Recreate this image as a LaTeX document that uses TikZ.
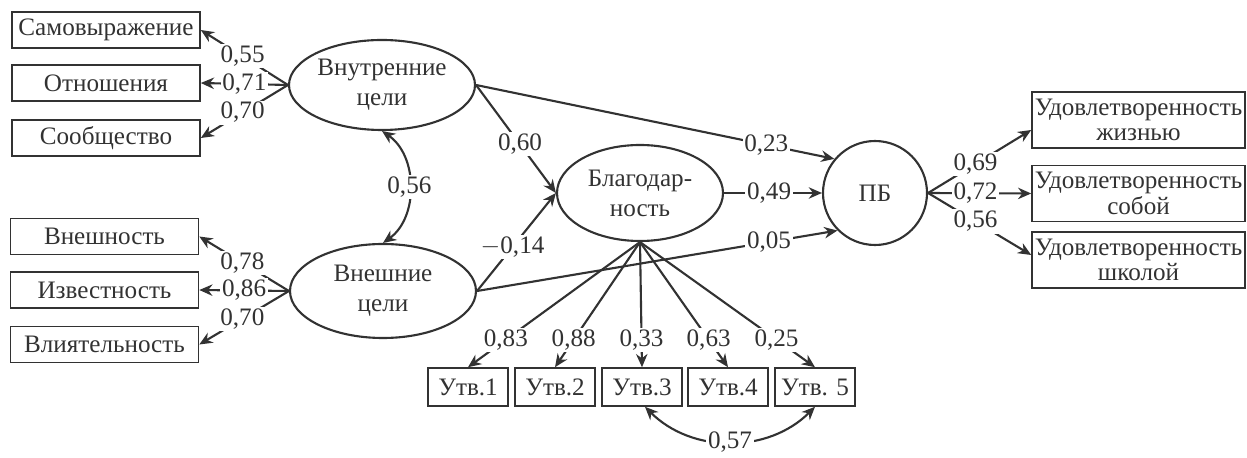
\documentclass[tikz,border=0pt]{standalone}
\usepackage{fontspec}
\setmainfont{Liberation Serif}
\usepackage{tikz}
\usetikzlibrary{arrows.meta, positioning, shapes.geometric}
\definecolor{ink}{RGB}{50,50,50}

\begin{document}
\begin{tikzpicture}[
    every node/.style={text=ink, font=\fontsize{14.3}{17}\selectfont},
    leftbox/.style={draw=ink, line width=0.9pt, minimum width=3.76cm, minimum height=0.72cm, inner sep=0pt},
    rightbox/.style={draw=ink, line width=0.9pt, minimum width=4.26cm, minimum height=1.12cm, inner sep=0pt, align=center, font=\fontsize{14.3}{14.5}\selectfont},
    utvbox/.style={draw=ink, line width=0.9pt, minimum width=1.6cm, minimum height=0.76cm, inner sep=0pt},
    latent/.style={ellipse, draw=ink, line width=1.2pt, inner sep=0pt, align=center},
    arr/.style={-{Stealth[length=7.5pt, width=6.5pt]}, draw=ink, line width=1.2pt},
    twoarr/.style={{Stealth[length=7.5pt, width=6.5pt]}-{Stealth[length=7.5pt, width=6.5pt]}, draw=ink, line width=1.2pt},
    lbl/.style={fill=white, inner sep=1pt}
]
    \useasboundingbox (0,0) rectangle (24.94,-9.16);

    % Латентные переменные
    \node[latent, minimum width=3.72cm, minimum height=1.8cm] (intr) at (7.64,-1.7) {Внутренние\\цели};
    \node[latent, minimum width=3.72cm, minimum height=1.88cm] (extr) at (7.66,-5.82) {Внешние\\цели};
    \node[latent, minimum width=3.32cm, minimum height=1.92cm] (blag) at (12.8,-3.86) {Благодар-\\ность};
    \node[circle, draw=ink, line width=1.2pt, minimum size=2.08cm, inner sep=0pt] (pb) at (17.5,-3.86) {ПБ};

    % Внутренние цели: индикаторы
    \node[leftbox] (samo) at (2.12,-0.6) {Самовыражение};
    \node[leftbox] (otno) at (2.12,-1.66) {Отношения};
    \node[leftbox] (soob) at (2.12,-2.76) {Сообщество};
    \draw[arr] (intr.west) -- node[lbl, pos=0.52] {0,55} (samo.east);
    \draw[arr] (intr.west) -- node[lbl, pos=0.5] {0,71} (otno.east);
    \draw[arr] (intr.west) -- node[lbl, pos=0.52] {0,70} (soob.east);

    % Внешние цели: индикаторы
    \node[leftbox] (vnesh) at (2.09,-4.73) {Внешность};
    \node[leftbox] (izv) at (2.09,-5.8) {Известность};
    \node[leftbox] (vliy) at (2.09,-6.89) {Влиятельность};
    \draw[arr] (extr.west) -- node[lbl, pos=0.52] {0,78} (vnesh.east);
    \draw[arr] (extr.west) -- node[lbl, pos=0.5] {0,86} (izv.east);
    \draw[arr] (extr.west) -- node[lbl, pos=0.52] {0,70} (vliy.east);

    % ковариация целей
    \draw[twoarr] (intr.south) to[bend left=55] node[lbl] {0,56} (extr.north);

    % пути к благодарности и ПБ
    \draw[arr] (intr.east) -- node[lbl, pos=0.55] {0,60} (blag.west);
    \draw[arr] (extr.east) -- node[lbl, pos=0.45] {$-$0,14} (blag.west);
    \draw[arr] (intr.east) -- node[lbl, pos=0.81] {0,23} (pb.140);
    \draw[arr] (blag.east) -- node[lbl, pos=0.46] {0,49} (pb.west);
    \draw[arr] (extr.east) -- node[lbl, pos=0.81] {0,05} (pb.225);

    % ПБ: индикаторы
    \node[rightbox] (zhizn) at (22.77,-2.4) {Удовлетворенность\\жизнью};
    \node[rightbox] (soboy) at (22.77,-3.87) {Удовлетворенность\\собой};
    \node[rightbox] (shkola) at (22.77,-5.2) {Удовлетворенность\\школой};
    \draw[arr] (pb.east) -- node[lbl, pos=0.46] {0,69} ([yshift=-0.2cm]zhizn.west);
    \draw[arr] (pb.east) -- node[lbl, pos=0.46] {0,72} (soboy.west);
    \draw[arr] (pb.east) -- node[lbl, pos=0.46] {0,56} ([yshift=0.1cm]shkola.west);

    % Благодарность: утверждения
    \node[utvbox] (u1) at (9.36,-7.74) {Утв.1};
    \node[utvbox] (u2) at (11.1,-7.74) {Утв.2};
    \node[utvbox] (u3) at (12.84,-7.74) {Утв.3};
    \node[utvbox] (u4) at (14.56,-7.74) {Утв.4};
    \node[utvbox] (u5) at (16.3,-7.74) {Утв. 5};
    \draw[arr] (blag.south) -- node[lbl, pos=0.78] {0,83} (u1.north);
    \draw[arr] (blag.south) -- node[lbl, pos=0.78] {0,88} (u2.north);
    \draw[arr] (blag.south) -- node[lbl, pos=0.78] {0,33} (u3.north);
    \draw[arr] (blag.south) -- node[lbl, pos=0.78] {0,63} (u4.north);
    \draw[arr] (blag.south) -- node[lbl, pos=0.78] {0,25} (u5.north);

    % ковариация Утв.3 -- Утв.5
    \draw[twoarr] ([xshift=0.06cm]u3.south) to[bend right=45] node[lbl] {0,57} (u5.south);
\end{tikzpicture}
\end{document}
